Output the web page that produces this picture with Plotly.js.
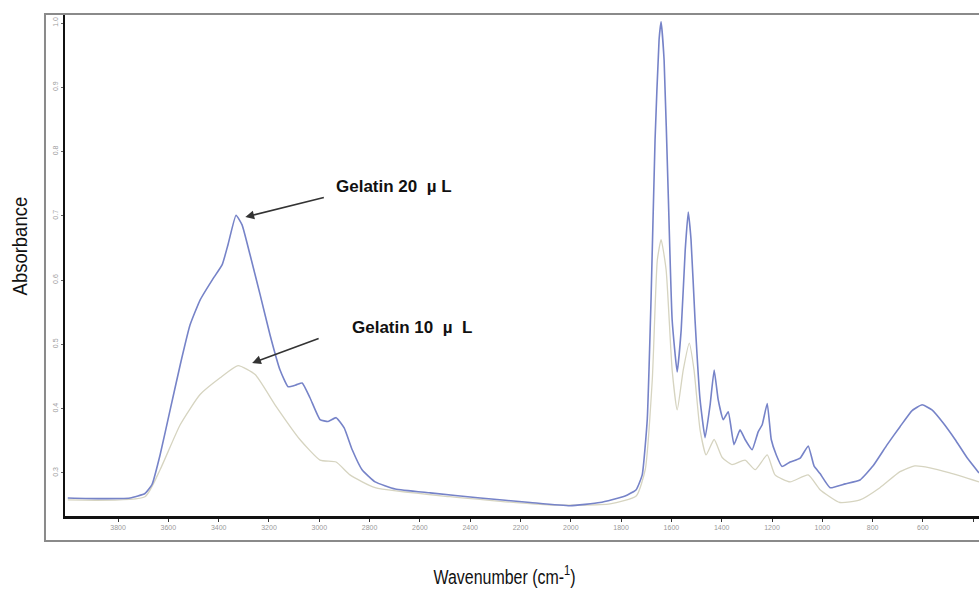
<!DOCTYPE html>
<html>
<head>
<meta charset="utf-8">
<script src="https://cdn.plot.ly/plotly-3.0.1.min.js"></script>
<style>
  html, body { margin: 0; padding: 0; background: #ffffff; }
  #chart { width: 979px; height: 595px; }
</style>
</head>
<body>
<div id="chart"></div>
<script>
// FTIR spectra of gelatin films (absorbance vs wavenumber)
const wn20 = [4000, 3872, 3752, 3693, 3665, 3633, 3593, 3553, 3514, 3474, 3426, 3386, 3363, 3331, 3307,
  3275, 3235, 3196, 3156, 3124, 3092, 3068, 3037, 2997, 2965, 2933, 2901, 2869, 2830, 2778, 2698, 2559,
  2360, 2161, 2003, 1884, 1784, 1740, 1716, 1696, 1681, 1665, 1649, 1641, 1629, 1613, 1597, 1577, 1561,
  1545, 1533, 1522, 1506, 1486, 1466, 1446, 1430, 1414, 1394, 1374, 1351, 1327, 1307, 1279, 1255, 1239,
  1219, 1203, 1183, 1160, 1128, 1088, 1056, 1033, 1009, 969, 909, 850, 798, 742, 691, 643, 603, 564,
  520, 472, 425, 377];
const abs20 = [0.261, 0.260, 0.261, 0.268, 0.282, 0.328, 0.398, 0.468, 0.530, 0.569, 0.600, 0.624, 0.655, 0.701, 0.686,
  0.639, 0.577, 0.515, 0.460, 0.434, 0.437, 0.440, 0.417, 0.383, 0.380, 0.386, 0.370, 0.336, 0.305, 0.286, 0.275, 0.269,
  0.261, 0.254, 0.249, 0.254, 0.264, 0.274, 0.297, 0.383, 0.569, 0.818, 0.974, 1.002, 0.942, 0.740, 0.538, 0.457, 0.523,
  0.647, 0.706, 0.663, 0.538, 0.414, 0.355, 0.406, 0.460, 0.414, 0.383, 0.395, 0.344, 0.367, 0.352, 0.336, 0.364, 0.375,
  0.408, 0.352, 0.328, 0.310, 0.317, 0.323, 0.342, 0.311, 0.299, 0.277, 0.283, 0.289, 0.311, 0.344, 0.372, 0.397, 0.406, 0.398,
  0.378, 0.352, 0.324, 0.300];

const wn10 = [4000, 3693, 3633, 3553, 3474, 3394, 3323, 3255, 3176, 3077, 2997, 2933, 2878, 2778, 2480, 2082,
  1844, 1740, 1704, 1676, 1656, 1641, 1621, 1597, 1577, 1553, 1529, 1510, 1486, 1462, 1430, 1398, 1359,
  1307, 1267, 1219, 1188, 1128, 1056, 1009, 930, 850, 771, 691, 632, 572, 493, 377];
const abs10 = [0.258, 0.263, 0.305, 0.375, 0.422, 0.448, 0.467, 0.453, 0.406, 0.352, 0.320, 0.317, 0.297, 0.277, 0.263, 0.250,
  0.252, 0.264, 0.305, 0.445, 0.631, 0.663, 0.616, 0.460, 0.398, 0.460, 0.502, 0.460, 0.367, 0.328, 0.352, 0.324, 0.313,
  0.320, 0.305, 0.328, 0.297, 0.286, 0.297, 0.274, 0.254, 0.258, 0.277, 0.302, 0.311, 0.308, 0.300, 0.286];

const xTicks = [3800, 3600, 3400, 3200, 3000, 2800, 2600, 2400, 2200, 2000, 1800, 1600, 1400, 1200, 1000, 800, 600, 400];
const yTicks = [0.3, 0.4, 0.5, 0.6, 0.7, 0.8, 0.9, 1.0];

const titleFont = '"Liberation Sans", Arial, sans-serif';
const bold = '"Liberation Sans", Arial, sans-serif';

const traces = [
  {
    x: wn10, y: abs10, type: 'scatter', mode: 'lines', name: 'Gelatin 10 µL',
    line: { color: '#d6d4c0', width: 1.3, shape: 'spline', smoothing: 0.5 },
    hoverinfo: 'x+y'
  },
  {
    x: wn20, y: abs20, type: 'scatter', mode: 'lines', name: 'Gelatin 20 µL',
    line: { color: '#7683c8', width: 1.6, shape: 'spline', smoothing: 0.4 },
    hoverinfo: 'x+y'
  }
];

const arrowStyle = { showarrow: true, arrowhead: 2, arrowsize: 1.1, arrowwidth: 1.6, arrowcolor: '#333',
  axref: 'pixel', ayref: 'pixel', xref: 'x', yref: 'y', text: '' };

const layout = {
  width: 979, height: 595,
  margin: { l: 65, r: 0, t: 14, b: 79 },
  paper_bgcolor: '#ffffff', plot_bgcolor: '#ffffff',
  showlegend: false,
  xaxis: {
    range: [4011, 377], autorange: false,
    tickvals: xTicks, ticktext: xTicks.map(String),
    tickfont: { size: 7, color: '#9a9a9a', family: 'Arial, sans-serif' },
    ticks: 'outside', ticklen: 3, tickcolor: '#333', tickwidth: 1,
    showgrid: false, zeroline: false,
    showline: true, linecolor: '#111', linewidth: 2.5
  },
  yaxis: {
    range: [0.233, 1.014], autorange: false,
    tickvals: yTicks, ticktext: yTicks.map(v => v.toFixed(1)),
    tickangle: -90,
    tickfont: { size: 7, color: '#9a9a9a', family: 'Arial, sans-serif' },
    ticks: 'outside', ticklen: 2, tickcolor: '#666', tickwidth: 1,
    showgrid: false, zeroline: false,
    showline: true, linecolor: '#111', linewidth: 2.5
  },
  shapes: [
    // outer frame
    { type: 'rect', xref: 'paper', yref: 'paper', x0: -0.0219, x1: 1.02, y0: -0.0498, y1: 1.0,
      line: { color: '#8a8a8a', width: 2 }, fillcolor: 'rgba(0,0,0,0)' }
  ],
  annotations: [
    Object.assign({ x: 3294, y: 0.698, ax: 80, ay: -20 }, arrowStyle),
    Object.assign({ x: 3267, y: 0.471, ax: 68, ay: -25 }, arrowStyle),
    { x: 2703, y: 0.745, xref: 'x', yref: 'y', showarrow: false, xanchor: 'center',
      text: '<b>Gelatin 20 &nbsp;µ L</b>', font: { family: bold, size: 17, color: '#111' } },
    { x: 2631, y: 0.526, xref: 'x', yref: 'y', showarrow: false, xanchor: 'center',
      text: '<b>Gelatin 10 &nbsp;µ &nbsp;L</b>', font: { family: bold, size: 17, color: '#111' } },
    { x: 0.481, y: -0.1175, xref: 'paper', yref: 'paper', showarrow: false, xanchor: 'center', yanchor: 'middle',
      text: 'Wavenumber (cm-<sup>1</sup>)', font: { family: titleFont, size: 21, color: '#111' } },
    { x: -0.049, y: 0.538, xref: 'paper', yref: 'paper', showarrow: false, xanchor: 'center', yanchor: 'middle',
      textangle: -90,
      text: 'Absorbance', font: { family: titleFont, size: 21, color: '#111' } }
  ]
};

Plotly.newPlot('chart', traces, layout, { displayModeBar: false, staticPlot: true }).then(gd => {
  // condensed look for the axis titles
  const squeeze = { 4: 0.76, 5: 0.88 };
  gd.querySelectorAll('.annotation').forEach(node => {
    const idx = node.getAttribute('data-index');
    if (squeeze[idx]) {
      const t = node.querySelector('text');
      if (t) {
        t.style.transformBox = 'fill-box';
        t.style.transformOrigin = 'center';
        t.style.transform = 'scaleX(' + squeeze[idx] + ')';
      }
    }
  });
});
</script>
</body>
</html>
